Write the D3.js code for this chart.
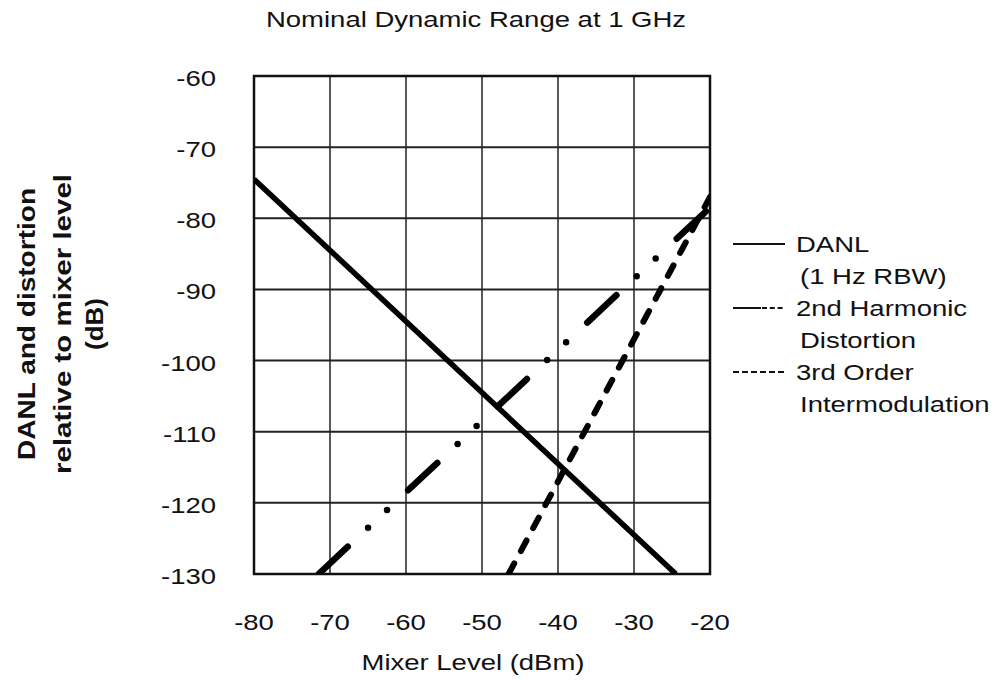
<!DOCTYPE html>
<html><head><meta charset="utf-8">
<script src="https://cdn.jsdelivr.net/npm/d3@7"></script>
<style>body{margin:0;background:#fff}svg{display:block}text{font-family:Arial,"Liberation Sans",sans-serif;fill:#111}</style>
</head><body>
<svg id="c" width="995" height="680"></svg>
<script>
// Data
const xTicks = [-80, -70, -60, -50, -40, -30, -20];
const yTicks = [-60, -70, -80, -90, -100, -110, -120, -130];
const danlX = [-80, -24.5];
const danlY = [-74.5, -130];
const harm2X = [-71.5, -20];
const harm2Y = [-130, -78.5];
const imd3X = [-46.5, -20];
const imd3Y = [-130, -77];
const legendLabels = [["DANL", "(1 Hz RBW)"], ["2nd Harmonic", "Distortion"], ["3rd Order", "Intermodulation"]];
const yTitleLines = ["DANL and distortion", "relative to mixer level", "(dB)"];

const svg = d3.select("#c");
const L = 254, R = 710, T = 76, B = 574;
const x = d3.scaleLinear().domain([-80, -20]).range([L, R]);
const y = d3.scaleLinear().domain([-130, -60]).range([B, T]);
const SX = 1.25, FS = 22;

function htext(g, tx, ty, str, anchor, size, weight) {
  return g.append("text")
    .attr("transform", `translate(${tx},${ty}) scale(${SX},1)`)
    .attr("text-anchor", anchor).attr("font-size", size)
    .attr("font-weight", weight || "normal").text(str);
}

// grid
const grid = svg.append("g");
grid.selectAll(".vx").data(xTicks).join("line")
  .attr("x1", d => x(d)).attr("x2", d => x(d)).attr("y1", T).attr("y2", B)
  .attr("stroke", "#222").attr("stroke-width", 1.5);
grid.selectAll(".hy").data(yTicks).join("line")
  .attr("x1", L).attr("x2", R).attr("y1", d => y(d)).attr("y2", d => y(d))
  .attr("stroke", "#222").attr("stroke-width", 2);
svg.append("rect").attr("x", L).attr("y", T).attr("width", R - L).attr("height", B - T)
  .attr("fill", "none").attr("stroke", "#111").attr("stroke-width", 2.5);

// ticks labels
xTicks.forEach(t => htext(svg, x(t), 630, String(t), "middle", FS));
yTicks.forEach(t => htext(svg, 216, y(t) + 10, String(t), "end", FS));

// titles
htext(svg, 476, 27, "Nominal Dynamic Range at 1 GHz", "middle", FS);
htext(svg, 473, 670, "Mixer Level (dBm)", "middle", FS);
const yt = svg.append("g").attr("transform", "translate(0,324) rotate(-90)");
const ytLen = [272, 300, 52];
const ytPos = [35, 71, 103];
yTitleLines.forEach((s, i) => {
  yt.append("text").attr("x", 0).attr("y", ytPos[i]).attr("text-anchor", "middle")
    .attr("font-size", 23).attr("font-weight", "bold")
    .attr("textLength", ytLen[i]).attr("lengthAdjust", "spacingAndGlyphs").text(s);
});

// lines
svg.append("clipPath").attr("id", "pc").append("rect")
  .attr("x", L).attr("y", T).attr("width", R - L).attr("height", B - T);
const plot = svg.append("g").attr("clip-path", "url(#pc)");
const line = d3.line().x(d => x(d[0])).y(d => y(d[1]));
const series = [
  {xs: danlX, ys: danlY, dash: null, w: 5.5},
  {xs: harm2X, ys: harm2Y, dash: "40,27.75,0,26,0,28.9", w: 6.5},
  {xs: imd3X, ys: imd3Y, dash: "12,14", w: 6}
];
series.forEach(s => {
  plot.append("path").datum(d3.zip(s.xs, s.ys)).attr("d", line)
    .attr("fill", "none").attr("stroke", "#000").attr("stroke-width", s.w)
    .attr("stroke-linecap", s.dash ? "round" : "butt")
    .attr("stroke-dasharray", s.dash);
});

// legend
const lg = svg.append("g");
const lgBase = [252, 316, 380];
legendLabels.forEach((lab, i) => {
  const by = lgBase[i];
  const ly = by - 8;
  if (i === 0) {
    lg.append("line").attr("x1", 733).attr("x2", 785).attr("y1", ly).attr("y2", ly)
      .attr("stroke", "#111").attr("stroke-width", 2);
  } else if (i === 1) {
    lg.append("line").attr("x1", 733).attr("x2", 761).attr("y1", ly).attr("y2", ly)
      .attr("stroke", "#111").attr("stroke-width", 2);
    lg.append("line").attr("x1", 762).attr("x2", 785).attr("y1", ly).attr("y2", ly)
      .attr("stroke", "#111").attr("stroke-width", 2).attr("stroke-dasharray", "5,2.8");
  } else {
    lg.append("line").attr("x1", 733).attr("x2", 786).attr("y1", ly).attr("y2", ly)
      .attr("stroke", "#111").attr("stroke-width", 2).attr("stroke-dasharray", "6,3");
  }
  htext(lg, 796, by, lab[0], "start", FS);
  htext(lg, 800, by + 32, lab[1], "start", FS);
});
</script>
</body></html>
